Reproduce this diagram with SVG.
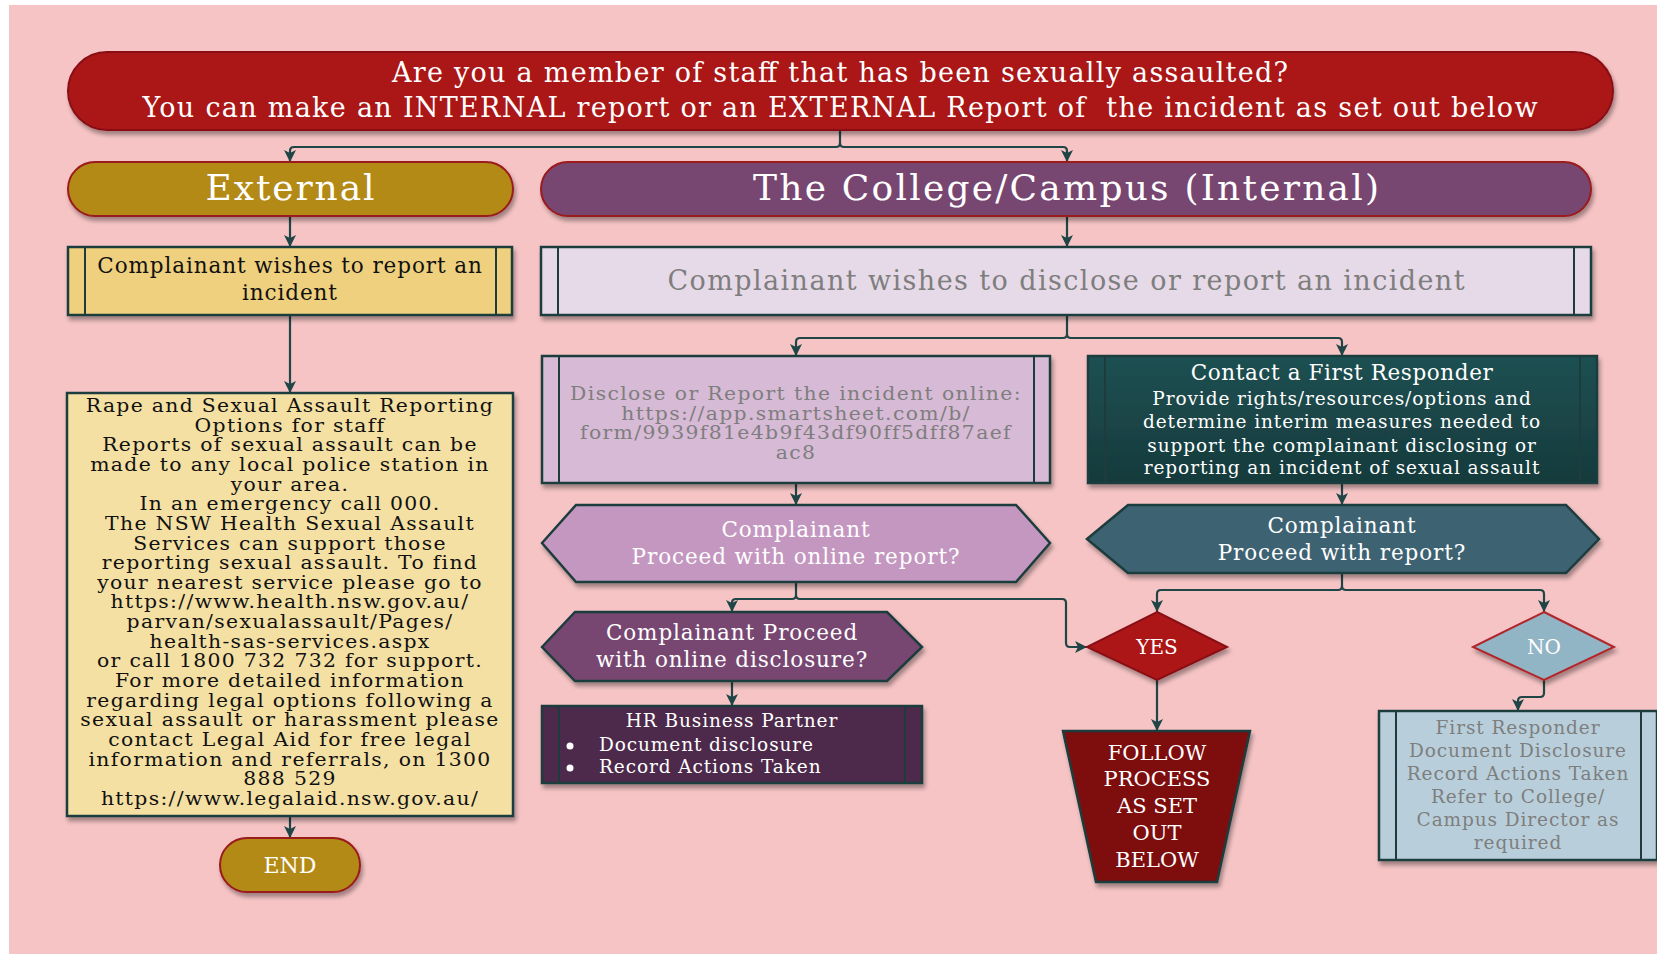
<svg xmlns="http://www.w3.org/2000/svg" width="1657" height="954" viewBox="0 0 1657 954">
<style>
text{font-family:"DejaVu Serif","Liberation Serif",serif;text-anchor:middle}
.b{letter-spacing:0.9px}
.t{font-size:18.5px;letter-spacing:1.2px}
.w{fill:#ffffff}
.k{fill:#111111}
.g{fill:#7E7E7E}
.pill{stroke:#9A1A1C;stroke-width:2}
.box{stroke:#1F3C3D;stroke-width:2.5}
.in{stroke:#1F3C3D;stroke-width:2;fill:none}
.con{fill:none;stroke:#1F4546;stroke-width:2.2;marker-end:url(#ah)}
.lnk{fill:none;stroke:#1F4546;stroke-width:2.2}
</style>
<defs>
<marker id="ah" markerUnits="userSpaceOnUse" markerWidth="14" markerHeight="14" refX="12" refY="6" orient="auto">
<path d="M0,0 L12,6 L0,12 L3,6 z" fill="#1F4546"/>
</marker>
<filter id="sh" x="-10%" y="-10%" width="120%" height="140%">
<feDropShadow dx="2" dy="4" stdDeviation="2" flood-color="#000" flood-opacity="0.35"/>
</filter>
<linearGradient id="teal" x1="0" y1="0" x2="0" y2="1">
<stop offset="0" stop-color="#1F5052"/>
<stop offset="1" stop-color="#163A3C"/>
</linearGradient>
</defs>
<rect x="0" y="0" width="1657" height="954" fill="#ffffff"/>
<rect x="9" y="5" width="1648" height="949" fill="#F6C4C5"/>

<g id="connectors">
<path class="lnk" d="M840,130 V143"/>
<path class="con" d="M840,143 Q840,147 836,147 H294 Q290,147 290,151 V162"/>
<path class="con" d="M840,143 Q840,147 844,147 H1063 Q1067,147 1067,151 V162"/>
<path class="con" d="M290,216 V247"/>
<path class="con" d="M1067,216 V247"/>
<path class="con" d="M290,315 V393"/>
<path class="con" d="M290,816 V838"/>
<path class="lnk" d="M1067,315 V334"/>
<path class="con" d="M1067,334 Q1067,338 1063,338 H800 Q796,338 796,342 V356"/>
<path class="con" d="M1067,334 Q1067,338 1071,338 H1338 Q1342,338 1342,342 V356"/>
<path class="con" d="M796,483 V505"/>
<path class="con" d="M1342,483 V505"/>
<path class="lnk" d="M796,582 V595"/>
<path class="con" d="M796,595 Q796,599 792,599 H736 Q732,599 732,603 V612"/>
<path class="con" d="M796,595 Q796,599 800,599 H1062 Q1066,599 1066,603 V643 Q1066,647 1070,647 H1087"/>
<path class="lnk" d="M1342,573 V586"/>
<path class="con" d="M1342,586 Q1342,590 1338,590 H1161 Q1157,590 1157,594 V612"/>
<path class="con" d="M1342,586 Q1342,590 1346,590 H1540 Q1544,590 1544,594 V612"/>
<path class="con" d="M732,681 V706"/>
<path class="con" d="M1157,680 V731"/>
<path class="con" d="M1544,680 V693 Q1544,697 1540,697 H1522 Q1518,697 1518,701 V711"/>
</g>

<g id="title">
<rect x="68" y="52" width="1545" height="78" rx="39" fill="#AB1518" stroke="#8A1114" stroke-width="2" filter="url(#sh)"/>
<text class="w" x="840" y="82" font-size="27" textLength="896">Are you a member of staff that has been sexually assaulted?</text>
<text class="w" x="840" y="117" font-size="27" textLength="1395" xml:space="preserve">You can make an INTERNAL report or an EXTERNAL Report of  the incident as set out below</text>
</g>

<g id="external">
<rect x="68" y="162" width="445" height="54" rx="27" fill="#B38A15" class="pill" filter="url(#sh)"/>
<text class="w" x="290" y="200" font-size="36" textLength="169">External</text>
</g>

<g id="internal">
<rect x="541" y="162" width="1050" height="54" rx="27" fill="#774772" class="pill" filter="url(#sh)"/>
<text class="w" x="1066" y="200" font-size="36" textLength="626">The College/Campus (Internal)</text>
</g>

<g id="ext-complainant">
<rect x="68" y="247" width="444" height="68" fill="#EFD07E" class="box" filter="url(#sh)"/>
<path class="in" d="M85,247 V315 M496,247 V315"/>
<text class="k b" font-size="21.5"><tspan x="290" y="273">Complainant wishes to report an</tspan><tspan x="290" y="300">incident</tspan></text>
</g>

<g id="int-complainant">
<rect x="541" y="247" width="1050" height="68" fill="#E7DAE8" class="box" filter="url(#sh)"/>
<path class="in" d="M558,247 V315 M1574,247 V315"/>
<text class="g" x="1066" y="290" font-size="27" textLength="797">Complainant wishes to disclose or report an incident</text>
</g>

<g id="ext-options">
<rect x="67" y="393" width="446" height="423" fill="#F4E0A3" class="box" filter="url(#sh)"/>
<text class="k t" transform="translate(290,0) scale(1.1,1) translate(-290,0)"><tspan x="290" y="412">Rape and Sexual Assault Reporting</tspan><tspan x="290" y="431.65">Options for staff</tspan><tspan x="290" y="451.3">Reports of sexual assault can be</tspan><tspan x="290" y="470.95">made to any local police station in</tspan><tspan x="290" y="490.6">your area.</tspan><tspan x="290" y="510.25">In an emergency call 000.</tspan><tspan x="290" y="529.9">The NSW Health Sexual Assault</tspan><tspan x="290" y="549.55">Services can support those</tspan><tspan x="290" y="569.2">reporting sexual assault. To find</tspan><tspan x="290" y="588.85">your nearest service please go to</tspan><tspan x="290" y="608.5">https://www.health.nsw.gov.au/</tspan><tspan x="290" y="628.15">parvan/sexualassault/Pages/</tspan><tspan x="290" y="647.8">health-sas-services.aspx</tspan><tspan x="290" y="667.45">or call 1800 732 732 for support.</tspan><tspan x="290" y="687.1">For more detailed information</tspan><tspan x="290" y="706.75">regarding legal options following a</tspan><tspan x="290" y="726.4">sexual assault or harassment please</tspan><tspan x="290" y="746.05">contact Legal Aid for free legal</tspan><tspan x="290" y="765.7">information and referrals, on 1300</tspan><tspan x="290" y="785.35">888 529</tspan><tspan x="290" y="805">https://www.legalaid.nsw.gov.au/</tspan></text>
</g>

<g id="end">
<rect x="220" y="838" width="140" height="54" rx="27" fill="#B38A15" class="pill" filter="url(#sh)"/>
<text class="w" x="290" y="873" font-size="22">END</text>
</g>

<g id="disclose-online">
<rect x="542" y="356" width="508" height="127" fill="#D7BAD5" class="box" filter="url(#sh)"/>
<path class="in" d="M559,356 V483 M1034,356 V483"/>
<text class="g t" style="letter-spacing:1.25px" transform="translate(796,0) scale(1.1,1) translate(-796,0)"><tspan x="796" y="400">Disclose or Report the incident online:</tspan><tspan x="796" y="419.7">https://app.smartsheet.com/b/</tspan><tspan x="796" y="439.4">form/9939f81e4b9f43df90ff5dff87aef</tspan><tspan x="796" y="459.1">ac8</tspan></text>
</g>

<g id="first-responder">
<rect x="1088" y="356" width="509" height="127" fill="url(#teal)" class="box" filter="url(#sh)"/>
<path class="in" d="M1105,356 V483 M1580,356 V483" stroke="#0F2A2B"/>
<text class="w b" font-size="18.5"><tspan x="1342" y="380" font-size="21.5" letter-spacing="0.6">Contact a First Responder</tspan><tspan x="1342" y="405">Provide rights/resources/options and</tspan><tspan x="1342" y="428">determine interim measures needed to</tspan><tspan x="1342" y="452">support the complainant disclosing or</tspan><tspan x="1342" y="474">reporting an incident of sexual assault</tspan></text>
</g>

<g id="proceed-online-report">
<polygon points="542,543 576,505 1016,505 1050,543 1016,582 576,582" fill="#C497C0" class="box" filter="url(#sh)"/>
<text class="w b" font-size="21.5"><tspan x="796" y="537">Complainant</tspan><tspan x="796" y="564">Proceed with online report?</tspan></text>
</g>

<g id="proceed-report">
<polygon points="1087,539 1128,505 1566,505 1599,539 1566,573 1128,573" fill="#3D6272" class="box" filter="url(#sh)"/>
<text class="w b" font-size="21.5"><tspan x="1342" y="533">Complainant</tspan><tspan x="1342" y="560">Proceed with report?</tspan></text>
</g>

<g id="proceed-online-disclosure">
<polygon points="542,647 575,612 887,612 922,647 887,681 575,681" fill="#774772" class="box" filter="url(#sh)"/>
<text class="w b" font-size="21.5"><tspan x="732" y="640">Complainant Proceed</tspan><tspan x="732" y="667">with online disclosure?</tspan></text>
</g>

<g id="hr-partner">
<rect x="542" y="706" width="380" height="77" fill="#4E2B4C" class="box" filter="url(#sh)"/>
<path class="in" d="M559,706 V783 M905,706 V783" stroke="#1A1A1A"/>
<text class="w b" x="732" y="727" font-size="18.5">HR Business Partner</text>
<circle cx="570" cy="746" r="3.5" fill="#fff"/>
<circle cx="570" cy="768" r="3.5" fill="#fff"/>
<text class="w b" font-size="18.5" style="text-anchor:start"><tspan x="599" y="751">Document disclosure</tspan><tspan x="599" y="773">Record Actions Taken</tspan></text>
</g>

<g id="yes">
<polygon points="1157,612 1227,647 1157,680 1087,647" fill="#AD1518" stroke="#8A1114" stroke-width="2" filter="url(#sh)"/>
<text class="w" x="1157" y="654" font-size="20">YES</text>
</g>

<g id="no">
<polygon points="1544,612 1614,647 1544,680 1473,647" fill="#92B5C6" stroke="#B0262A" stroke-width="2" filter="url(#sh)"/>
<text class="w" x="1544" y="654" font-size="20">NO</text>
</g>

<g id="follow-process">
<polygon points="1063,731 1250,731 1217,882 1096,882" fill="#7E0E11" class="box" filter="url(#sh)"/>
<text class="w" font-size="21"><tspan x="1157" y="760">FOLLOW</tspan><tspan x="1157" y="786">PROCESS</tspan><tspan x="1157" y="813">AS SET</tspan><tspan x="1157" y="840">OUT</tspan><tspan x="1157" y="867">BELOW</tspan></text>
</g>

<g id="fr-document">
<rect x="1379" y="711" width="278" height="149" fill="#B8CFDB" class="box" filter="url(#sh)"/>
<path class="in" d="M1396,711 V860 M1641,711 V860"/>
<text class="g b" font-size="18.5"><tspan x="1518" y="734">First Responder</tspan><tspan x="1518" y="757">Document Disclosure</tspan><tspan x="1518" y="780">Record Actions Taken</tspan><tspan x="1518" y="803">Refer to College/</tspan><tspan x="1518" y="826">Campus Director as</tspan><tspan x="1518" y="849">required</tspan></text>
</g>
</svg>
